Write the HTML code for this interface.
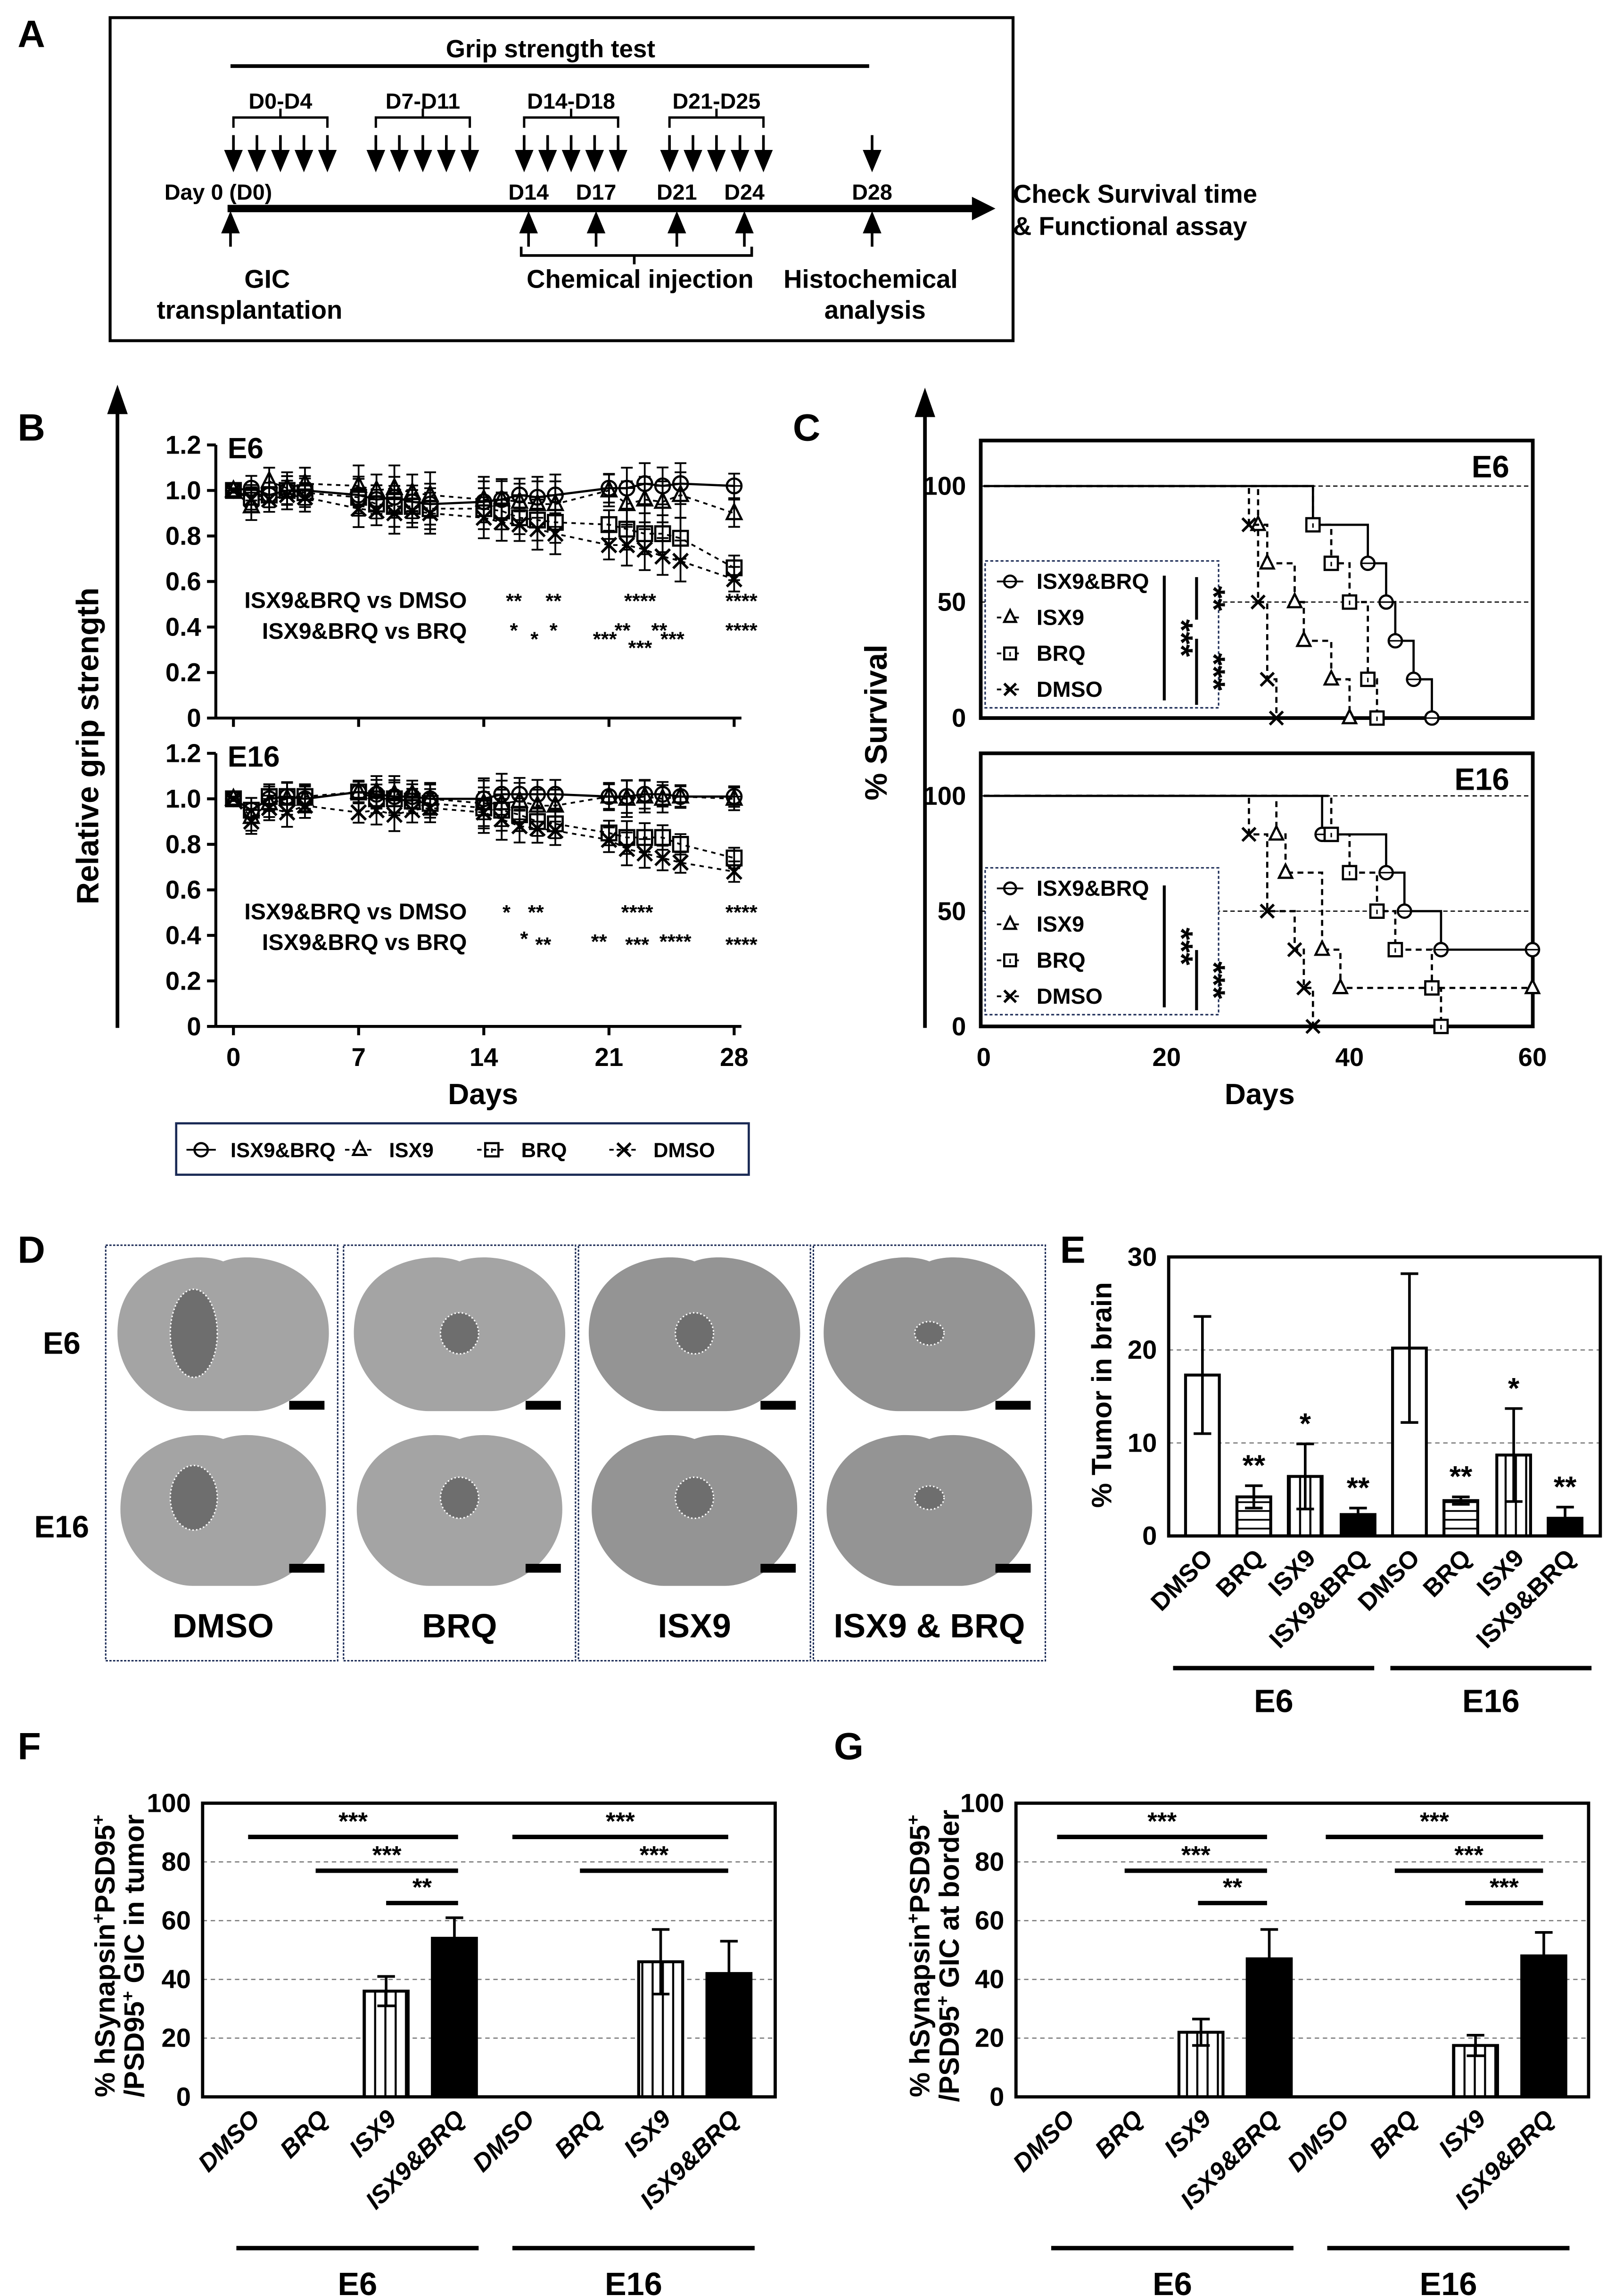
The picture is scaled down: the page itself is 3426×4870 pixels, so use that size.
<!DOCTYPE html>
<html><head><meta charset="utf-8">
<style>
html,body{margin:0;padding:0;background:#fff;}
svg{display:block;font-family:"Liberation Sans",Arial,sans-serif;}
text{font-weight:bold;}
</style></head>
<body>
<svg id="fig" width="3426" height="4870" viewBox="0 0 1100 1563.6" xmlns="http://www.w3.org/2000/svg">
<defs>
<pattern id="vstripe" width="7" height="10" patternUnits="userSpaceOnUse"><rect width="7" height="10" fill="#fff"/><line x1="3.5" y1="0" x2="3.5" y2="10" stroke="#000" stroke-width="1.4"/></pattern>
<pattern id="hstripe" width="10" height="6" patternUnits="userSpaceOnUse"><rect width="10" height="6" fill="#fff"/><line x1="0" y1="3" x2="10" y2="3" stroke="#000" stroke-width="1.2"/></pattern>
</defs>

<!-- Panel A -->
<g>
<text x="12" y="32" font-size="26">A</text>
<rect x="75" y="12" width="615" height="220" fill="none" stroke="#000" stroke-width="2"/>
<text x="375" y="39" font-size="17" text-anchor="middle">Grip strength test</text>
<line x1="157" y1="45" x2="592" y2="45" stroke="#000" stroke-width="2.5"/>
<g id="timelineA"></g>
<line x1="155" y1="142" x2="665" y2="142" stroke="#000" stroke-width="5"/>
<polygon points="662,134 678,142 662,150" fill="#000"/>
<text x="112" y="136" font-size="15">Day 0 (D0)</text>
<text x="690" y="138" font-size="17.5">Check Survival time</text>
<text x="690" y="160" font-size="17.5">&amp; Functional assay</text>
<text x="182" y="196" font-size="17.5" text-anchor="middle">GIC</text>
<text x="170" y="217" font-size="17.5" text-anchor="middle">transplantation</text>
<text x="436" y="196" font-size="17.5" text-anchor="middle">Chemical injection</text>
<text x="593" y="196" font-size="17.5" text-anchor="middle">Histochemical</text>
<text x="596" y="217" font-size="17.5" text-anchor="middle">analysis</text>
<path d="M355,168 V174 H512 V168 M432,174 V180" fill="none" stroke="#000" stroke-width="1.8"/>
</g>

<!-- Panel B -->
<g>
<text x="12" y="300" font-size="26">B</text>
<line x1="80" y1="700" x2="80" y2="280" stroke="#000" stroke-width="2.5"/>
<polygon points="73,282 80,262 87,282" fill="#000"/>
<text transform="translate(67,508) rotate(-90)" font-size="21" text-anchor="middle">Relative grip strength</text>
<g id="gripE6"></g>
<g id="gripE16"></g>
<text x="329" y="752" font-size="20" text-anchor="middle">Days</text>
<rect x="120" y="765" width="390" height="35" fill="none" stroke="#1a2a55" stroke-width="1.5"/>
<g id="legendB"></g>
</g>

<!-- Panel C -->
<g>
<text x="540" y="300" font-size="26">C</text>
<line x1="630" y1="700" x2="630" y2="282" stroke="#000" stroke-width="2.5"/>
<polygon points="623,284 630,264 637,284" fill="#000"/>
<text transform="translate(604,492) rotate(-90)" font-size="21" text-anchor="middle">% Survival</text>
<g id="kmE6"></g>
<g id="kmE16"></g>
<text x="858" y="752" font-size="20" text-anchor="middle">Days</text>
</g>

<!-- Panel D -->
<g id="panelD">
<text x="12" y="860" font-size="26">D</text>
<text x="42" y="922" font-size="21" text-anchor="middle">E6</text>
<text x="42" y="1047" font-size="21" text-anchor="middle">E16</text>
</g>

<!-- Panel E -->
<g>
<text x="722" y="860" font-size="26">E</text>
<text transform="translate(757,950) rotate(-90)" font-size="19" text-anchor="middle">% Tumor in brain</text>
<g id="chartE"></g>
</g>

<!-- Panel F -->
<g>
<text x="12" y="1198" font-size="26">F</text>
<text transform="translate(78,1332) rotate(-90)" font-size="19" text-anchor="middle">% hSynapsin<tspan dy="-7" font-size="12">+</tspan><tspan dy="7">PSD95</tspan><tspan dy="-7" font-size="12">+</tspan></text>
<text transform="translate(98,1332) rotate(-90)" font-size="19" text-anchor="middle">/PSD95<tspan dy="-7" font-size="12">+</tspan><tspan dy="7"> GIC in tumor</tspan></text>
<g id="chartF"></g>
</g>

<!-- Panel G -->
<g>
<text x="568" y="1198" font-size="26">G</text>
<text transform="translate(633,1332) rotate(-90)" font-size="19" text-anchor="middle">% hSynapsin<tspan dy="-7" font-size="12">+</tspan><tspan dy="7">PSD95</tspan><tspan dy="-7" font-size="12">+</tspan></text>
<text transform="translate(653,1332) rotate(-90)" font-size="19" text-anchor="middle">/PSD95<tspan dy="-7" font-size="12">+</tspan><tspan dy="7"> GIC at border</tspan></text>
<g id="chartG"></g>
</g>
</svg>

<script>
// ---------- Data ----------
const gripDays = [0,1,2,3,4,7,8,9,10,11,14,15,16,17,18,21,22,23,24,25,28];
const gripTicks = [0,0.2,0.4,0.6,0.8,1.0,1.2];
const gripDayTicks = [0,7,14,21,28];
const e6Combo = [1.0,1.01,0.98,1.0,1.0,0.98,0.96,0.97,0.95,0.94,0.95,0.96,0.98,0.97,0.98,1.01,1.01,1.03,1.02,1.03,1.02];
const e6Isx9  = [1.0,0.93,1.04,1.01,1.03,1.02,1.0,1.01,0.99,0.98,0.96,0.96,0.95,0.94,0.94,1.0,0.94,0.96,0.95,0.98,0.9];
const e6Brq   = [1.0,0.97,0.98,1.0,0.99,0.97,0.94,0.93,0.93,0.92,0.92,0.91,0.88,0.87,0.86,0.85,0.83,0.81,0.81,0.79,0.66];
const e6Dmso  = [1.0,0.96,0.96,0.98,0.97,0.92,0.91,0.9,0.91,0.9,0.88,0.86,0.85,0.83,0.81,0.76,0.76,0.74,0.71,0.69,0.61];
const e6Err   = [0.01,0.06,0.06,0.07,0.07,0.09,0.07,0.1,0.08,0.1,0.1,0.09,0.08,0.1,0.1,0.07,0.1,0.1,0.09,0.1,0.06];
const e16Combo = [1.0,0.95,1.0,1.01,1.0,1.03,1.02,1.01,1.01,1.0,1.0,1.02,1.02,1.02,1.02,1.01,1.01,1.02,1.02,1.01,1.01];
const e16Isx9  = [1.0,0.92,0.98,1.0,1.0,1.03,1.03,1.02,1.02,1.0,0.98,0.98,0.99,0.97,0.97,1.01,1.0,1.01,1.0,1.01,1.0];
const e16Brq   = [1.0,0.95,1.01,1.01,1.01,1.03,1.0,1.0,0.99,0.98,0.96,0.95,0.93,0.9,0.89,0.85,0.83,0.83,0.83,0.8,0.74];
const e16Dmso  = [1.0,0.9,0.96,0.94,0.97,0.94,0.95,0.93,0.95,0.96,0.94,0.91,0.88,0.87,0.86,0.82,0.78,0.76,0.74,0.72,0.68];
const e16Err   = [0.01,0.06,0.06,0.07,0.06,0.05,0.07,0.08,0.06,0.07,0.1,0.1,0.08,0.07,0.07,0.06,0.08,0.07,0.06,0.05,0.05];
const seriesNames = ["ISX9&BRQ","ISX9","BRQ","DMSO"];

const kmTicksY = [0,50,100];
const kmTicksX = [0,20,40,60];
const kmE6ComboT = [0,36,42,44,45,47,49]; const kmE6ComboS = [100,83.3,66.7,50,33.3,16.7,0];
const kmE6IsxT   = [0,30,31,34,35,38,40]; const kmE6IsxS   = [100,83.3,66.7,50,33.3,16.7,0];
const kmE6BrqT   = [0,36,38,40,42,43];    const kmE6BrqS   = [100,83.3,66.7,50,16.7,0];
const kmE6DmsoT  = [0,29,30,31,32];       const kmE6DmsoS  = [100,83.3,50,16.7,0];
const kmE16ComboT = [0,37,44,46,50,60];   const kmE16ComboS = [100,83.3,66.7,50,33.3,33.3];
const kmE16IsxT   = [0,32,33,37,39,60];   const kmE16IsxS   = [100,83.3,66.7,33.3,16.7,16.7];
const kmE16BrqT   = [0,38,40,43,45,49,50];const kmE16BrqS   = [100,83.3,66.7,50,33.3,16.7,0];
const kmE16DmsoT  = [0,29,31,34,35,36];   const kmE16DmsoS  = [100,83.3,50,33.3,16.7,0];

const barCats = ["DMSO","BRQ","ISX9","ISX9&BRQ","DMSO","BRQ","ISX9","ISX9&BRQ"];
const tumorVals = [17.3,4.2,6.4,2.3,20.2,3.8,8.7,1.9];
const tumorErr  = [6.3,1.2,3.5,0.7,8.0,0.4,5.0,1.2];
const tumorStars = ["","**","*","**","","**","*","**"];
const tumorTicks = [0,10,20,30];
const synTumorVals = [0,0,36,54,0,0,46,42];
const synTumorErr  = [0,0,5,7,0,0,11,11];
const synBorderVals = [0,0,22,47,0,0,17.5,48];
const synBorderErr  = [0,0,4.5,10,0,0,3.5,8];
const synTicks = [0,20,40,60,80,100];

const NS = "http://www.w3.org/2000/svg";
function mk(tag, attrs, parent){const e=document.createElementNS(NS,tag);for(const k in attrs)e.setAttribute(k,attrs[k]);parent.appendChild(e);return e;}
function txt(s, attrs, parent){const e=mk('text',attrs,parent);e.textContent=s;return e;}

// ---------- Panel A timeline ----------
(function(){
  const g=document.getElementById('timelineA');
  const groups=[[159,"D0-D4"],[256,"D7-D11"],[357,"D14-D18"],[456,"D21-D25"]];
  groups.forEach(function(gr){
    const x0=gr[0], w=64;
    const t=txt(gr[1],{x:x0+w/2,y:74,'font-size':15,'text-anchor':'middle'},g);
    
    
    const b=mk('path',{d:`M${x0},87 V80 H${x0+w} V87 M${x0+w/2},80 V74`,fill:'none',stroke:'#000','stroke-width':1.6},g);
    
    
    for(let i=0;i<5;i++){
      const ax=x0+i*w/4;
      const a=mk('path',{d:`M${ax},92 V104 M${ax-5},103 L${ax},115 L${ax+5},103 z`,fill:'#000',stroke:'#000','stroke-width':1.8},g);
      
      
    }
  });
  const a28=mk('path',{d:`M594,92 V104 M589,103 L594,115 L599,103 z`,fill:'#000',stroke:'#000','stroke-width':1.8},g);
  
  
  const days=[[360,"D14"],[406,"D17"],[461,"D21"],[507,"D24"],[594,"D28"]];
  days.forEach(function(d){
    const t=txt(d[1],{x:d[0],y:136,'font-size':15,'text-anchor':'middle'},g);
    
    
  });
  [157,360,406,461,507,594].forEach(function(x){
    const a=mk('path',{d:`M${x},168 V156 M${x-5},158 L${x},146 L${x+5},158 z`,fill:'#000',stroke:'#000','stroke-width':1.8},g);
    
    
  });
})();

// ---------- Markers ----------
function marker(g,type,x,y,r,fill){
  let e;
  if(type===0){e=mk('circle',{cx:x,cy:y,r:r,fill:fill,stroke:'#000','stroke-width':1.5},g);
    mk('line',{x1:x-r,y1:y,x2:x+r,y2:y,stroke:'#000','stroke-width':1},g);}
  else if(type===1){e=mk('polygon',{points:`${x},${y-r-1} ${x-r},${y+r-1} ${x+r},${y+r-1}`,fill:fill,stroke:'#000','stroke-width':1.5},g);}
  else if(type===2){e=mk('rect',{x:x-r,y:y-r,width:2*r,height:2*r,fill:fill,stroke:'#000','stroke-width':1.5},g);
    mk('line',{x1:x,y1:y-1,x2:x,y2:y+2,stroke:'#000','stroke-width':1},g);}
  else {e=mk('path',{d:`M${x-r},${y-r} L${x+r},${y+r} M${x-r},${y+r} L${x+r},${y-r}`,stroke:'#000','stroke-width':1.8,fill:'none'},g);}
  return e;
}

// ---------- Panel B ----------
function gripChart(id,y0,label,sets,err,starRows){
  const g=document.getElementById(id);
  const xS=d=>159+d*12.18;
  const yS=v=>y0-v*155;
  mk('line',{x1:147,y1:yS(1.2),x2:147,y2:y0,stroke:'#000','stroke-width':2},g);
  mk('line',{x1:147,y1:y0,x2:505,y2:y0,stroke:'#000','stroke-width':2},g);
  gripTicks.forEach(function(t){
    const tk=mk('line',{x1:141,y1:yS(t),x2:147,y2:yS(t),stroke:'#000','stroke-width':2},g);
    
    
    const tl=txt(t===0?"0":t.toFixed(1),{x:137,y:yS(t)+6,'font-size':17.5,'text-anchor':'end'},g);
    
    
  });
  gripDayTicks.forEach(function(d){
    const tk=mk('line',{x1:xS(d),y1:y0,x2:xS(d),y2:y0+6,stroke:'#000','stroke-width':2},g);
    
    
    if(id==='gripE16'){
      const tl=txt(String(d),{x:xS(d),y:y0+27,'font-size':17.5,'text-anchor':'middle'},g);
      
      
    }
  });
  const lb=txt(label,{x:155,y:yS(1.2)+9,'font-size':20},g);
  
  
  sets.forEach(function(vals,si){
    const pts=vals.map((v,i)=>xS(gripDays[i])+','+yS(v)).join(' ');
    const ln=mk('polyline',{points:pts,fill:'none',stroke:'#000','stroke-width':si===0?1.5:1.2,'stroke-dasharray':si===0?'none':'3,3'},g);
    
    
  });
  sets.forEach(function(vals,si){
    vals.forEach(function(v,i){
      const x=xS(gripDays[i]), y=yS(v), e=err[i]*(si===1?1.0:0.9);
      const eb=mk('path',{d:`M${x},${yS(v+e)} V${yS(v-e)} M${x-4},${yS(v+e)} H${x+4} M${x-4},${yS(v-e)} H${x+4}`,stroke:'#000','stroke-width':1.2,fill:'none'},g);
      
      
      const m=marker(g,si,x,y,5,'none');
      
      
    });
  });
  const t1=txt("ISX9&BRQ vs DMSO",{x:318,y:starRows[0]+6,'font-size':15.5,'text-anchor':'end'},g);
  
  
  const t2=txt("ISX9&BRQ vs BRQ",{x:318,y:starRows[0]+27,'font-size':15.5,'text-anchor':'end'},g);
  
  
  starRows[1].forEach(function(s){
    const st=txt(s[2],{x:s[0],y:starRows[0]+s[1],'font-size':14,'text-anchor':'middle'},g);
    
    
  });
}
gripChart('gripE6',489,'E6',[e6Combo,e6Isx9,e6Brq,e6Dmso],e6Err,[408,[[350,6,'**'],[377,6,'**'],[436,6,'****'],[505,6,'****'],[350,26,'*'],[364,32,'*'],[377,26,'*'],[424,26,'**'],[449,26,'**'],[412,32,'***'],[436,38,'***'],[458,32,'***'],[505,26,'****']]]);
gripChart('gripE16',699,'E16',[e16Combo,e16Isx9,e16Brq,e16Dmso],e16Err,[620,[[345,6,'*'],[365,6,'**'],[434,6,'****'],[505,6,'****'],[357,24,'*'],[370,28,'**'],[408,26,'**'],[434,28,'***'],[460,26,'****'],[505,28,'****']]]);

(function(){
  const g=document.getElementById('legendB');
  const xs=[137,245,335,425];
  seriesNames.forEach(function(n,i){
    const l=mk('line',{x1:xs[i]-10,y1:783,x2:xs[i]+10,y2:783,stroke:'#000','stroke-width':1.2,'stroke-dasharray':i===0?'none':'3,2'},g);
    
    
    const m=marker(g,i,xs[i],783,4.5,'none');
    
    
    const t=txt(n,{x:xs[i]+20,y:788,'font-size':14},g);
    
    
  });
})();

// ---------- Panel C ----------
function kmChart(id,yTop,y100,y0,label,series,legendY,stars){
  const g=document.getElementById(id);
  const xS=d=>670+d*6.23;
  const yS=v=>y0-v*(y0-y100)/100;
  mk('rect',{x:668,y:yTop,width:376,height:y0-yTop,fill:'none',stroke:'#000','stroke-width':2.5},g);
  [50,100].forEach(function(v){
    const gl=mk('line',{x1:668,y1:yS(v),x2:1044,y2:yS(v),stroke:'#000','stroke-width':0.8,'stroke-dasharray':'3,2'},g);
    
    
  });
  kmTicksY.forEach(function(v){
    const tl=txt(String(v),{x:658,y:yS(v)+6,'font-size':17.5,'text-anchor':'end'},g);
    
    
  });
  if(id==='kmE16'){
    kmTicksX.forEach(function(v){
      const tl=txt(String(v),{x:xS(v),y:y0+27,'font-size':17.5,'text-anchor':'middle'},g);
      
      
    });
  }
  const lb=txt(label,{x:1028,y:yTop+25,'font-size':21,'text-anchor':'end'},g);
  
  
  series.forEach(function(s,si){
    const T=s[0],S=s[1];
    let d=`M${xS(T[0])},${yS(S[0])}`;
    for(let i=1;i<T.length;i++){d+=` H${xS(T[i])} V${yS(S[i])}`;}
    const p=mk('path',{d:d,fill:'none',stroke:'#000','stroke-width':1.5,'stroke-dasharray':si===0?'none':'4,3'},g);
    
    
    for(let i=1;i<T.length;i++){
      const m=marker(g,si,xS(T[i]),yS(S[i]),4.5,'#fff');
      
      
    }
  });
  const lg=mk('rect',{x:671,y:legendY,width:159,height:100,fill:'#fff',stroke:'#1a2a55','stroke-width':1,'stroke-dasharray':'2,1.5'},g);
  
  
  seriesNames.forEach(function(n,i){
    const yy=legendY+14+i*24.5;
    const l=mk('line',{x1:679,y1:yy,x2:697,y2:yy,stroke:'#000','stroke-width':1.2,'stroke-dasharray':i===0?'none':'3,3'},g);
    
    
    const m=marker(g,i,688,yy,4,'#fff');
    
    
    const t=txt(n,{x:706,y:yy+5,'font-size':15},g);
    
    
  });
  stars.forEach(function(s){
    const l=mk('line',{x1:s[0],y1:s[1],x2:s[0],y2:s[2],stroke:'#000','stroke-width':2},g);
    
    
    const t=txt(s[3],{'font-size':22,'text-anchor':'middle',transform:`translate(${s[0]+4},${(s[1]+s[2])/2}) rotate(90)`},g);
    
    
  });
}
kmChart('kmE6',300,331,489,'E6',[[kmE6ComboT,kmE6ComboS],[kmE6IsxT,kmE6IsxS],[kmE6BrqT,kmE6BrqS],[kmE6DmsoT,kmE6DmsoS]],382,[[793,392,477,'***'],[815,393,422,'**'],[815,435,480,'***']]);
kmChart('kmE16',513,542,699,'E16',[[kmE16ComboT,kmE16ComboS],[kmE16IsxT,kmE16IsxS],[kmE16BrqT,kmE16BrqS],[kmE16DmsoT,kmE16DmsoS]],591,[[793,603,686,'***'],[815,647,688,'***']]);

// ---------- Panel D ----------
(function(){
  const g=document.getElementById('panelD');
  const cols=[[72,152,"DMSO"],[234,313,"BRQ"],[394,473,"ISX9"],[554,633,"ISX9 & BRQ"]];
  cols.forEach(function(c,ci){
    const box=mk('rect',{x:c[0],y:848,width:158,height:283,fill:'none',stroke:'#1a2a55','stroke-width':1,'stroke-dasharray':'1.5,1'},g);
    
    
    const cx=c[1];
    [[908,72,53,957],[1028,70,52,1068]].forEach(function(r,ri){
      const cy=r[0],rx=r[1],ry=r[2];
      const b=mk('path',{d:`M${cx},${cy-ry+4} C${cx-20},${cy-ry-4} ${cx-rx},${cy-ry+4} ${cx-rx},${cy} C${cx-rx},${cy+ry*0.6} ${cx-rx*0.6},${cy+ry} ${cx-rx*0.3},${cy+ry} L${cx+rx*0.3},${cy+ry} C${cx+rx*0.6},${cy+ry} ${cx+rx},${cy+ry*0.6} ${cx+rx},${cy} C${cx+rx},${cy-ry+4} ${cx+20},${cy-ry-4} ${cx},${cy-ry+4} z`,fill:ci===2||ci===3?'#949494':'#a4a4a4'},g);
      
      
      const tu=mk('ellipse',{cx:cx-(ci===0?20:0),cy:cy-(ri===0?0:8),rx:ci===0?16:(ci===3?10:13),ry:ci===0?(ri===0?30:22):(ci===3?8:14),fill:'#6e6e6e',stroke:'#fff','stroke-width':1,'stroke-dasharray':'1,1.5'},g);
      
      
      const sb=mk('rect',{x:cx+45,y:r[3]-3,width:24,height:6,fill:'#000'},g);
      
      
    });
    const t=txt(c[2],{x:cx,y:1115,'font-size':23,'text-anchor':'middle'},g);
    
    
  });
})();

// ---------- Bar charts ----------
function fillFor(i){const k=i%4;return k===0?'#fff':k===1?'url(#hstripe)':k===2?'url(#vstripe)':'#000';}
function barChart(id,x0,x1,yTop,y0,vmax,ticks,vals,err,centers,bw,italic,hatchBrq){
  const g=document.getElementById(id);
  const yS=v=>y0-v*(y0-yTop)/vmax;
  ticks.forEach(function(t){
    if(t>0&&t<vmax){
      const gl=mk('line',{x1:x0,y1:yS(t),x2:x1,y2:yS(t),stroke:'#777','stroke-width':0.8,'stroke-dasharray':'3,2.5'},g);
      
      
    }
    const tl=txt(String(t),{x:x0-8,y:yS(t)+6,'font-size':18,'text-anchor':'end'},g);
    
    
  });
  vals.forEach(function(v,i){
    if(v<=0)return;
    const cx=centers[i];
    const r=mk('rect',{x:cx-bw/2,y:yS(v),width:bw,height:y0-yS(v),fill:hatchBrq?fillFor(i):(i%4===3?'#000':'url(#vstripe)'),stroke:'#000','stroke-width':2},g);
    
    
    const e=err[i];
    const eb=mk('path',{d:`M${cx},${yS(v+e)} V${yS(Math.max(0,v-e))} M${cx-6},${yS(v+e)} H${cx+6} M${cx-6},${yS(Math.max(0,v-e))} H${cx+6}`,stroke:'#000','stroke-width':1.8,fill:'none'},g);
    
    
  });
  mk('rect',{x:x0,y:yTop,width:x1-x0,height:y0-yTop,fill:'none',stroke:'#000','stroke-width':2.2},g);
  barCats.forEach(function(c,i){
    const attrs={'font-size':17,'text-anchor':'end',transform:`translate(${centers[i]+8},${y0+16}) rotate(-45)`};
    if(italic)attrs['font-style']='italic';
    const t=txt(c,attrs,g);
    
    
  });
  return {g:g,yS:yS};
}
function groupLines(g,a,b,y,ty){
  [[a[0],a[1],'E6'],[b[0],b[1],'E16']].forEach(function(s){
    const l=mk('line',{x1:s[0],y1:y,x2:s[1],y2:y,stroke:'#000','stroke-width':3},g);
    
    
    const t=txt(s[2],{x:(s[0]+s[1])/2,y:ty,'font-size':22,'text-anchor':'middle'},g);
    
    
  });
}

// Panel E
(function(){
  const centers=[819,854,889,925,960,995,1031,1066];
  const c=barChart('chartE',796,1090,856,1046,30,tumorTicks,tumorVals,tumorErr,centers,23,false,true);
  tumorStars.forEach(function(s,i){
    if(!s)return;
    const t=txt(s,{x:centers[i],y:c.yS(tumorVals[i]+tumorErr[i])-7,'font-size':20,'text-anchor':'middle'},c.g);
    
    
  });
  groupLines(c.g,[799,936],[947,1084],1136,1166);
})();

function sigLines(g,yS,lines){
  lines.forEach(function(l){
    const ln=mk('line',{x1:l[0],y1:yS(l[2]),x2:l[1],y2:yS(l[2]),stroke:'#000','stroke-width':3},g);
    
    
    const t=txt(l[3],{x:(l[0]+l[1])/2+ (l[4]||0),y:yS(l[2])-5,'font-size':17,'text-anchor':'middle'},g);
    
    
  });
}
// Panel F
(function(){
  const centers=[170,216.5,263,309.5,357,403.5,450,496.5];
  const c=barChart('chartF',138,528,1228,1428,100,synTicks,synTumorVals,synTumorErr,centers,30,true,false);
  sigLines(c.g,c.yS,[[169,312,88.5,'***'],[215,312,77,'***'],[263,312,66,'**'],[349,496,88.5,'***'],[395,496,77,'***']]);
  groupLines(c.g,[161,326],[349,514],1531,1563);
})();
// Panel G
(function(){
  const centers=[725,771.5,818,864.5,912,958.5,1005,1051.5];
  const c=barChart('chartG',692,1082,1228,1428,100,synTicks,synBorderVals,synBorderErr,centers,30,true,false);
  sigLines(c.g,c.yS,[[720,863,88.5,'***'],[766,863,77,'***'],[816,863,66,'**'],[903,1051,88.5,'***'],[950,1051,77,'***'],[998,1051,66,'***']]);
  groupLines(c.g,[716,881],[904,1069],1531,1563);
})();
</script>
</body></html>
